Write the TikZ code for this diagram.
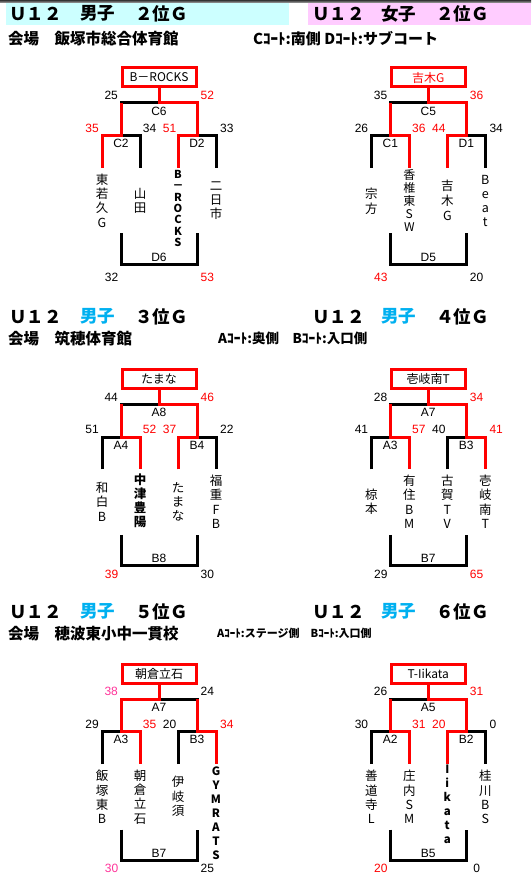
\documentclass[tikz,border=0pt]{standalone}
\usepackage{fontspec}
\setmainfont{Liberation Sans}
\newfontfamily\jp{Noto Sans CJK JP}
\usepackage{xcolor}
\definecolor{cyanband}{HTML}{CCFFFF}
\definecolor{pinkband}{HTML}{FFCCFF}
\definecolor{boyblue}{HTML}{00B0F0}
\definecolor{scorepink}{HTML}{FF3399}
\tikzstyle{grouptitle} = [
    anchor=west,
    inner sep=0pt,
    font=\jp\bfseries\fontsize{17.5}{17.5}\selectfont
]
\tikzstyle{venue} = [
    anchor=west,
    inner sep=0pt,
    font=\jp\bfseries\fontsize{15.5}{16}\selectfont
]
\tikzstyle{court} = [
    anchor=west,
    inner sep=0pt,
    font=\jp\bfseries\fontsize{15}{16}\selectfont
]
\tikzstyle{winbox} = [
    rectangle,
    draw=red,
    line width=3pt,
    minimum width=74pt,
    minimum height=19pt,
    inner sep=0pt,
    font=\jp\fontsize{12}{12}\selectfont
]
\tikzstyle{bracket} = [
    draw=black,
    line width=3pt
]
\tikzstyle{winner} = [
    draw=red,
    line width=3pt
]
\tikzstyle{score} = [
    inner sep=0pt,
    font=\fontsize{12}{12}\selectfont
]
\tikzstyle{team} = [
    align=center,
    inner sep=0pt,
    font=\jp\fontsize{12.5}{14.3}\selectfont
]
\tikzstyle{teambold} = [
    align=center,
    inner sep=0pt,
    font=\jp\bfseries\fontsize{11.5}{14}\selectfont
]

\begin{document}
\begin{tikzpicture}[x=1pt, y=-1pt]
    \useasboundingbox (0,0) rectangle (531,874);

    % Header bands
    \shade[top color=black!80, bottom color=black!35] (0,0) rectangle (531,2.8);
    \fill[cyanband] (6,3.5) rectangle (289,25);
    \fill[pinkband] (308,3.5) rectangle (531,25);

    % Bracket frames (black)
    \foreach \b/\cx/\cy in {b1/159/103, b2/428.3/103, b3/159/404.3,
                            b4/428.3/404.3, b5/159/699, b6/428.3/699} {
        \begin{scope}[shift={(\cx,\cy)}, name prefix=\b-]
            \coordinate (f) at (0,0);
            \coordinate (fl) at (-38,0);
            \coordinate (fr) at (38,0);
            \coordinate (sl) at (-38,32.7);
            \coordinate (sll) at (-57,32.7);
            \coordinate (slr) at (-19,32.7);
            \coordinate (sr) at (38,32.7);
            \coordinate (srl) at (19,32.7);
            \coordinate (srr) at (57,32.7);
            \coordinate (t1) at (-57,65);
            \coordinate (t2) at (-19,65);
            \coordinate (t3) at (19,65);
            \coordinate (t4) at (57,65);
            \coordinate (bl) at (-38,130.5);
            \coordinate (blb) at (-38,161.5);
            \coordinate (brb) at (38,161.5);
            \coordinate (br) at (38,130.5);
            \draw[bracket] (sl) -- (fl) -- (fr) -- (sr);
            \draw[bracket] (t1) -- (sll) -- (slr) -- (t2);
            \draw[bracket] (t3) -- (srl) -- (srr) -- (t4);
            \draw[bracket] (bl) -- (blb) -- (brb) -- (br);
        \end{scope}
    }

    % ---------------- Row 1 ----------------
    \node[grouptitle] (h1a) at (9,13.5) {Ｕ１２};
    \node[grouptitle] (h1b) at (80,13.5) {男子};
    \node[grouptitle] (h1c) at (135,13.5) {２位Ｇ};
    \node[grouptitle] (h2a) at (312,13.5) {Ｕ１２};
    \node[grouptitle] (h2b) at (381,13.5) {女子};
    \node[grouptitle] (h2c) at (436,13.5) {２位Ｇ};
    \node[venue] (v1) at (8,38.3) {会場　飯塚市総合体育館};
    \node[court] (c1) at (253,38.3) {Cｺｰﾄ:南側 Dｺｰﾄ:サブコート};

    % Boys 2nd place group
    \begin{scope}[shift={(159,103)}, name prefix=b1-]
        \node[winbox] (box) at (0,-25.5) {B－ROCKS};
        \draw[winner] (box.south) -- (f) -- (fr) -- (sr) -- (srl) -- (t3);
        \draw[winner] (fl) -- (sl) -- (sll) -- (t1);
        \node[score] (s1) at (-47.8,-7.3) {25};
        \node[score, red] (s2) at (48.3,-7.3) {52};
        \node[score] (m1) at (0,8) {C6};
        \node[score, red, anchor=east] (s3) at (-60,25.3) {35};
        \node[score] (s4) at (-9.5,25.3) {34};
        \node[score, red] (s5) at (10.5,25.3) {51};
        \node[score, anchor=west] (s6) at (61,25.3) {33};
        \node[score] (m2) at (-38,40.7) {C2};
        \node[score] (m3) at (38,40.7) {D2};
        \node[team] (n1) at (-57,97.5) {東\\若\\久\\G};
        \node[team] (n2) at (-19,97.5) {山\\田};
        \node[teambold, font=\jp\bfseries\fontsize{11}{11.4}\selectfont] (n3) at (19,105.5) {B\\－\\R\\O\\C\\K\\S};
        \node[team] (n4) at (57,97.5) {二\\日\\市};
        \node[score] (m4) at (0,154.5) {D6};
        \node[score] (s7) at (-47.5,174) {32};
        \node[score, red] (s8) at (48.3,174) {53};
    \end{scope}

    % Girls 2nd place group
    \begin{scope}[shift={(428.3,103)}, name prefix=b2-]
        \node[winbox, text=red] (box) at (0,-25.5) {吉木G};
        \draw[winner] (box.south) -- (f) -- (fr) -- (sr) -- (srl) -- (t3);
        \draw[winner] (fl) -- (sl) -- (slr) -- (t2);
        \node[score] (s1) at (-47.8,-7.3) {35};
        \node[score, red] (s2) at (48.3,-7.3) {36};
        \node[score] (m1) at (0,8) {C5};
        \node[score, anchor=east] (s3) at (-60,25.3) {26};
        \node[score, red] (s4) at (-9.5,25.3) {36};
        \node[score, red] (s5) at (10.5,25.3) {44};
        \node[score, anchor=west] (s6) at (61,25.3) {34};
        \node[score] (m2) at (-38,40.7) {C1};
        \node[score] (m3) at (38,40.7) {D1};
        \node[team] (n1) at (-57,98.3) {宗\\方};
        \node[team, font=\jp\fontsize{12}{13.1}\selectfont] (n2) at (-19,97.5) {香\\椎\\東\\S\\W};
        \node[team, font=\jp\fontsize{12.5}{15}\selectfont] (n3) at (19,97) {吉\\木\\G};
        \node[team] (n4) at (57,98) {B\\e\\a\\t};
        \node[score] (m4) at (0,154.5) {D5};
        \node[score, red] (s7) at (-47.5,174) {43};
        \node[score] (s8) at (48.3,174) {20};
    \end{scope}

    % ---------------- Row 2 ----------------
    \node[grouptitle] (h3a) at (9,316.7) {Ｕ１２};
    \node[grouptitle, boyblue] (h3b) at (80,316.7) {男子};
    \node[grouptitle] (h3c) at (135,316.7) {３位Ｇ};
    \node[grouptitle] (h4a) at (312,316.7) {Ｕ１２};
    \node[grouptitle, boyblue] (h4b) at (381,316.7) {男子};
    \node[grouptitle] (h4c) at (436,316.7) {４位Ｇ};
    \node[venue] (v2) at (8,338.3) {会場　筑穂体育館};
    \node[court, font=\jp\bfseries\fontsize{13.5}{14}\selectfont] (c2) at (218,338.3) {Aｺｰﾄ:奥側　Bｺｰﾄ:入口側};

    % Boys 3rd place group
    \begin{scope}[shift={(159,404.3)}, name prefix=b3-]
        \node[winbox] (box) at (0,-25.5) {たまな};
        \draw[winner] (box.south) -- (f) -- (fr) -- (sr) -- (srl) -- (t3);
        \draw[winner] (fl) -- (sl) -- (slr) -- (t2);
        \node[score] (s1) at (-47.8,-7.3) {44};
        \node[score, red] (s2) at (48.3,-7.3) {46};
        \node[score] (m1) at (0,8) {A8};
        \node[score, anchor=east] (s3) at (-60,25.3) {51};
        \node[score, red] (s4) at (-9.5,25.3) {52};
        \node[score, red] (s5) at (10.5,25.3) {37};
        \node[score, anchor=west] (s6) at (61,25.3) {22};
        \node[score] (m2) at (-38,40.7) {A4};
        \node[score] (m3) at (38,40.7) {B4};
        \node[team] (n1) at (-57,97.5) {和\\白\\B};
        \node[teambold, font=\jp\bfseries\fontsize{12.5}{14}\selectfont] (n2) at (-19,96.4) {中\\津\\豊\\陽};
        \node[team] (n3) at (19,97.5) {た\\ま\\な};
        \node[team] (n4) at (57,97.5) {福\\重\\F\\B};
        \node[score] (m4) at (0,154.5) {B8};
        \node[score, red] (s7) at (-47.5,170.5) {39};
        \node[score] (s8) at (48.3,170.5) {30};
    \end{scope}

    % Boys 4th place group
    \begin{scope}[shift={(428.3,404.3)}, name prefix=b4-]
        \node[winbox] (box) at (0,-25.5) {壱岐南T};
        \draw[winner] (box.south) -- (f) -- (fr) -- (sr) -- (srr) -- (t4);
        \draw[winner] (fl) -- (sl) -- (slr) -- (t2);
        \node[score] (s1) at (-47.8,-7.3) {28};
        \node[score, red] (s2) at (48.3,-7.3) {34};
        \node[score] (m1) at (0,8) {A7};
        \node[score, anchor=east] (s3) at (-60,25.3) {41};
        \node[score, red] (s4) at (-9.5,25.3) {57};
        \node[score] (s5) at (10.5,25.3) {40};
        \node[score, red, anchor=west] (s6) at (61,25.3) {41};
        \node[score] (m2) at (-38,40.7) {A3};
        \node[score] (m3) at (38,40.7) {B3};
        \node[team] (n1) at (-57,97.5) {椋\\本};
        \node[team] (n2) at (-19,97.5) {有\\住\\B\\M};
        \node[team] (n3) at (19,97.5) {古\\賀\\T\\V};
        \node[team] (n4) at (57,97.5) {壱\\岐\\南\\T};
        \node[score] (m4) at (0,154.5) {B7};
        \node[score] (s7) at (-47.5,170.5) {29};
        \node[score, red] (s8) at (48.3,170.5) {65};
    \end{scope}

    % ---------------- Row 3 ----------------
    \node[grouptitle] (h5a) at (9,611.7) {Ｕ１２};
    \node[grouptitle, boyblue] (h5b) at (80,611.7) {男子};
    \node[grouptitle] (h5c) at (135,611.7) {５位Ｇ};
    \node[grouptitle] (h6a) at (312,611.7) {Ｕ１２};
    \node[grouptitle, boyblue] (h6b) at (381,611.7) {男子};
    \node[grouptitle] (h6c) at (436,611.7) {６位Ｇ};
    \node[venue] (v3) at (8,633.3) {会場　穂波東小中一貫校};
    \node[court, font=\jp\bfseries\fontsize{11}{12}\selectfont] (c3) at (217,633.3) {Aｺｰﾄ:ステージ側　Bｺｰﾄ:入口側};

    % Boys 5th place group
    \begin{scope}[shift={(159,699)}, name prefix=b5-]
        \node[winbox] (box) at (0,-25.5) {朝倉立石};
        \draw[winner] (box.south) -- (f) -- (fl) -- (sl) -- (slr) -- (t2);
        \draw[winner] (fr) -- (sr) -- (srr) -- (t4);
        \node[score, scorepink] (s1) at (-47.8,-7.3) {38};
        \node[score] (s2) at (48.3,-7.3) {24};
        \node[score] (m1) at (0,8) {A7};
        \node[score, anchor=east] (s3) at (-60,25.3) {29};
        \node[score, red] (s4) at (-9.5,25.3) {35};
        \node[score] (s5) at (10.5,25.3) {20};
        \node[score, red, anchor=west] (s6) at (61,25.3) {34};
        \node[score] (m2) at (-38,40.7) {A3};
        \node[score] (m3) at (38,40.7) {B3};
        \node[team] (n1) at (-57,98) {飯\\塚\\東\\B};
        \node[team] (n2) at (-19,98) {朝\\倉\\立\\石};
        \node[team] (n3) at (19,97.5) {伊\\岐\\須};
        \node[teambold, font=\jp\bfseries\fontsize{11.5}{13.9}\selectfont] (n4) at (57,114.3) {G\\Y\\M\\R\\A\\T\\S};
        \node[score] (m4) at (0,154.5) {B7};
        \node[score, scorepink] (s7) at (-47.5,169.5) {30};
        \node[score] (s8) at (48.3,169.5) {25};
    \end{scope}

    % Boys 6th place group
    \begin{scope}[shift={(428.3,699)}, name prefix=b6-]
        \node[winbox] (box) at (0,-25.5) {T-Iikata};
        \draw[winner] (box.south) -- (f) -- (fr) -- (sr) -- (srl) -- (t3);
        \draw[winner] (fl) -- (sl) -- (slr) -- (t2);
        \node[score] (s1) at (-47.8,-7.3) {26};
        \node[score, red] (s2) at (48.3,-7.3) {31};
        \node[score] (m1) at (0,8) {A5};
        \node[score, anchor=east] (s3) at (-60,25.3) {30};
        \node[score, red] (s4) at (-9.5,25.3) {31};
        \node[score, red] (s5) at (10.5,25.3) {20};
        \node[score, anchor=west] (s6) at (61,25.3) {0};
        \node[score] (m2) at (-38,40.7) {A2};
        \node[score] (m3) at (38,40.7) {B2};
        \node[team] (n1) at (-57,98) {善\\道\\寺\\L};
        \node[team] (n2) at (-19,98) {庄\\内\\S\\M};
        \node[teambold, font=\jp\bfseries\fontsize{11.5}{14}\selectfont] (n3) at (19,105.5) {I\\i\\k\\a\\t\\a};
        \node[team] (n4) at (57,98) {桂\\川\\B\\S};
        \node[score] (m4) at (0,154.5) {B5};
        \node[score, red] (s7) at (-47.5,169.5) {20};
        \node[score] (s8) at (48.3,169.5) {0};
    \end{scope}
\end{tikzpicture}
\end{document}
